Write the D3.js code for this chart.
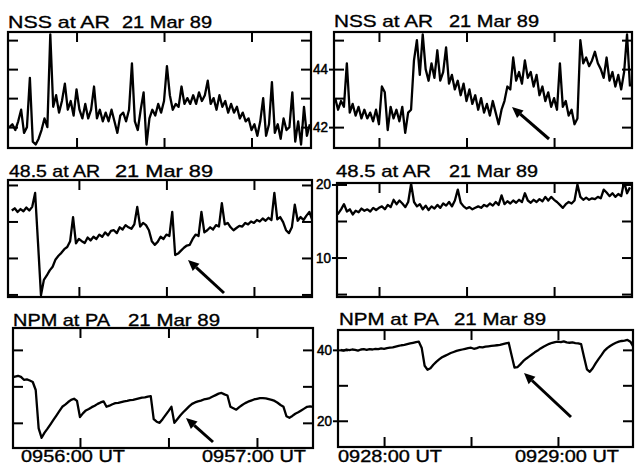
<!DOCTYPE html>
<html><head><meta charset="utf-8">
<script src="https://cdn.jsdelivr.net/npm/d3@7"></script>
<style>
html,body{margin:0;padding:0;background:#fff;}
svg{display:block;}
text{font-family:"Liberation Sans",Arial,Helvetica,sans-serif;fill:#000;}
</style></head>
<body>
<svg id="chart" width="636" height="465"></svg>
<script>
// ---- data (one sample per second) ----
const leftStart = 37;   // seconds after 0955:00
const rightStart = 45;  // seconds after 0927:00
const nssLeft = [42.0,42.1,41.9,42.2,42.6,41.8,42.0,43.7,41.5,41.4,41.6,41.9,42.3,42.0,45.2,42.7,43.1,42.5,42.9,43.5,42.6,42.9,42.4,43.3,42.6,42.3,42.8,42.3,42.6,43.4,42.3,42.6,42.2,42.5,42.2,42.6,42.2,41.8,42.4,42.5,42.2,42.6,44.2,42.2,41.9,42.6,43.2,41.4,42.3,42.6,42.4,42.8,42.5,42.9,44.1,43.1,42.6,42.8,42.7,43.4,42.8,43.0,42.8,43.1,42.8,43.2,42.9,43.1,43.6,42.8,43.0,42.6,43.1,42.7,42.9,42.5,42.8,42.5,42.7,42.3,42.5,42.2,42.3,41.9,42.1,41.7,42.2,43.0,41.7,42.1,43.55,41.8,42.1,41.6,42.3,41.9,42.0,43.2,41.5,42.2,41.4,42.7,41.7,42.1];
const nssRight = [43.0,42.6,42.9,42.7,44.2,42.5,42.8,42.4,42.7,42.3,42.6,42.3,42.5,42.2,42.6,42.1,43.4,43.2,41.9,42.7,42.3,42.6,42.2,42.7,41.8,42.5,42.6,44.3,45.0,43.8,45.2,44.0,43.6,44.2,43.7,44.65,43.6,43.9,44.75,43.5,43.8,43.3,43.6,43.1,43.5,42.9,43.3,42.8,43.1,42.6,43.0,42.5,42.8,42.4,42.9,42.5,42.1,42.6,42.9,43.4,43.3,44.4,43.6,43.9,43.5,44.3,43.7,43.9,43.4,43.8,43.1,43.4,42.9,43.2,42.7,43.0,42.6,44.2,42.7,42.9,42.4,42.6,42.1,42.3,45.0,44.2,44.4,44.1,44.3,44.6,44.2,44.0,43.7,44.4,43.6,43.9,43.4,43.8,43.3,43.9,45.2,43.4];
const w485Left = [16.5,16.8,16.3,16.7,16.4,16.9,16.5,17.0,18.9,12.0,4.9,7.0,7.6,8.3,8.8,9.8,10.3,10.7,11.2,11.5,12.3,15.6,12.0,12.6,12.3,12.05,12.8,12.4,12.9,12.6,13.2,12.9,13.5,13.1,13.7,13.8,13.4,14.2,13.9,14.5,14.2,14.0,14.6,17.0,14.3,14.8,14.5,13.8,12.3,11.8,12.2,12.9,12.6,13.2,13.0,16.3,10.4,10.6,11.0,11.4,11.7,11.8,12.6,13.2,13.0,16.3,13.5,13.8,14.2,13.9,14.5,14.3,17.5,14.6,14.8,14.2,13.8,14.1,14.4,14.3,14.8,14.6,15.0,14.8,15.2,15.0,15.4,15.1,15.5,15.2,18.9,15.3,15.6,14.9,13.8,13.4,14.2,17.3,15.1,15.6,15.2,15.8,16.3,15.2];
const w485Right = [16.2,16.0,16.6,17.3,16.3,16.6,15.9,16.4,16.2,16.7,16.4,16.6,16.3,16.8,16.5,16.8,17.0,16.6,17.2,16.9,17.9,17.3,17.8,17.4,16.9,17.6,20.1,17.6,17.0,17.3,16.6,17.1,16.5,17.0,16.7,17.2,16.8,17.4,17.1,17.6,17.0,17.8,19.3,17.5,17.0,16.7,16.9,16.6,16.8,17.0,16.8,17.2,17.0,17.4,17.1,17.6,17.2,18.5,17.3,17.7,17.4,17.8,17.5,17.9,17.6,18.8,17.8,17.5,17.9,17.6,18.0,17.7,18.3,17.8,18.3,17.9,17.6,17.2,16.8,17.3,17.6,17.4,17.8,20.0,18.3,17.9,18.2,17.9,18.1,18.0,18.3,18.1,19.3,18.9,18.4,18.8,18.3,18.7,18.4,20.4,18.8,19.6];
const npmLeft = [32.5,32.7,32.9,32.6,31.8,31.9,31.6,31.2,29.0,18.5,15.9,17.3,18.4,19.6,20.8,22.0,23.2,24.4,25.0,25.7,26.3,26.6,26.0,21.6,22.6,23.4,23.8,24.3,24.7,25.2,25.6,25.9,24.4,24.7,25.1,25.4,25.5,25.7,25.9,26.0,26.2,26.3,26.5,26.7,26.9,27.0,27.2,27.3,21.0,20.3,20.0,21.0,22.1,23.2,24.4,20.0,21.0,22.0,22.9,23.7,24.5,25.2,25.6,25.9,26.1,26.4,26.6,26.8,27.2,27.6,28.0,28.2,27.8,27.5,24.4,24.0,23.6,24.3,24.9,25.4,25.8,26.1,26.4,26.6,26.8,26.8,26.7,26.5,26.3,26.0,25.5,24.9,24.4,21.8,21.4,21.9,22.5,22.9,23.4,23.9,24.4,24.5,24.4,24.6];
const npmRight = [40.0,39.8,40.1,39.9,40.1,40.0,39.8,40.1,40.2,40.0,40.2,40.1,40.3,40.2,40.4,40.3,40.5,40.6,40.7,40.9,41.1,41.3,41.4,41.6,41.8,42.0,42.2,42.3,40.5,35.5,34.4,34.8,35.8,36.6,37.3,37.9,38.3,38.7,39.1,39.4,39.7,39.9,40.1,40.3,40.5,40.6,40.3,40.5,40.8,40.7,40.9,41.0,41.1,41.2,41.3,41.4,41.6,41.8,42.0,38.5,35.0,35.1,35.9,36.8,37.5,38.1,38.7,39.3,39.8,40.4,40.9,41.3,41.7,42.0,42.2,42.3,42.2,42.4,42.1,42.0,42.1,41.9,41.8,41.6,38.0,34.5,33.8,34.8,36.2,37.4,38.5,39.7,40.5,41.1,41.6,42.0,42.3,42.5,42.6,42.8,42.3,40.9];

// ---- labels ----
const titleLeftParts = ["NSS at AR", "48.5 at AR", "NPM at PA"];
const titleDate = "21 Mar 89";
const timeTicks = [60, 90, 120];
const leftTimeLabels = ["0956:00 UT", "0957:00 UT"];
const rightTimeLabels = ["0928:00 UT", "0929:00 UT"];
const nssTicks = [42, 43, 44, 45], nssLabels = [44, 42];
const w485Ticks = [5, 10, 15, 20], w485Labels = [20, 10];
const npmTicks = [20, 30, 40], npmLabels = [40, 20];

// ---- layout ----
const panels = [
  {data:nssLeft, t0:leftStart, x0:8, x1:311, y0:32, y1:148, xd:[36.5,140.4], yd:[41.28,45.28], yt:nssTicks, yl:null, title:0, tb:28, tx:[8,110,122,212]},
  {data:nssRight, t0:rightStart, x0:334, x1:632, y0:32, y1:148, xd:[44.6,146.7], yd:[41.28,45.28], yt:nssTicks, yl:nssLabels, title:0, tb:27, tx:[334,433,449,539],
    arrow:[549,139,512,107]},
  {data:w485Left, t0:leftStart, x0:8, x1:312, y0:180, y1:297, xd:[35.7,139.9], yd:[4.65,20.68], yt:w485Ticks, yl:null, title:1, tb:177, tx:[9,100,115,213],
    arrow:[224,293,188,260]},
  {data:w485Right, t0:rightStart, x0:337, x1:632, y0:183, y1:297, xd:[45.6,146.7], yd:[4.6,20.2], yt:w485Ticks, yl:w485Labels, title:1, tb:177, tx:[336,431,449,538]},
  {data:npmLeft, t0:leftStart, x0:13, x1:313, y0:328, y1:448, xd:[37.3,139], yd:[13.1,46.0], yt:npmTicks, yl:null, title:2, tb:326, tx:[13,110,128,220],
    arrow:[213,442,186,418], xl:leftTimeLabels, xlc:[73,254]},
  {data:npmRight, t0:rightStart, x0:338, x1:633, y0:330, y1:447, xd:[44.1,145.9], yd:[12.6,45.6], yt:npmTicks, yl:npmLabels, title:2, tb:325, tx:[339,439,454,546],
    arrow:[571,417,524,373], xl:rightTimeLabels, xlc:[390,567]}
];

const svg = d3.select("#chart");
const defs = svg.append("defs");

panels.forEach((p, k) => {
  const x = d3.scaleLinear().domain(p.xd).range([p.x0, p.x1]);
  const y = d3.scaleLinear().domain(p.yd).range([p.y1, p.y0]);
  const g = svg.append("g");
  const cid = "clip" + k;
  defs.append("clipPath").attr("id", cid).append("rect")
    .attr("x", p.x0).attr("y", p.y0).attr("width", p.x1 - p.x0).attr("height", p.y1 - p.y0);

  // data line
  const line = d3.line().x((d, i) => x(p.t0 + i)).y(d => y(d));
  g.append("path").datum(p.data).attr("clip-path", `url(#${cid})`)
    .attr("d", line).attr("fill", "none").attr("stroke", "#000")
    .attr("stroke-width", 2.3).attr("stroke-linejoin", "round");

  // frame
  g.append("rect").attr("x", p.x0).attr("y", p.y0).attr("width", p.x1 - p.x0).attr("height", p.y1 - p.y0)
    .attr("fill", "none").attr("stroke", "#000").attr("stroke-width", 2.2);

  // axes via d3 axis generators with inward ticks
  const tk = 10;
  const axTop = d3.axisTop(x).tickValues(timeTicks).tickSize(-tk).tickFormat("");
  const axBot = d3.axisBottom(x).tickValues(timeTicks).tickSize(-tk).tickFormat("");
  const axL = d3.axisLeft(y).tickValues(p.yt).tickSize(-tk).tickFormat("");
  const axR = d3.axisRight(y).tickValues(p.yt).tickSize(-tk).tickFormat("");
  [[axTop, `translate(0,${p.y0})`], [axBot, `translate(0,${p.y1})`],
   [axL, `translate(${p.x0},0)`], [axR, `translate(${p.x1},0)`]].forEach(([ax, tr]) => {
    const a = g.append("g").attr("transform", tr).call(ax);
    a.select(".domain").remove();
    a.selectAll("line").attr("stroke", "#000").attr("stroke-width", 2);
  });

  // y labels on the left of right-column panels
  if (p.yl) {
    const ay = g.append("g").attr("transform", `translate(${p.x0},0)`)
      .call(d3.axisLeft(y).tickValues(p.yl).tickSize(5).tickPadding(1).tickFormat(d3.format("d")));
    ay.select(".domain").remove();
    ay.selectAll("line").attr("stroke", "#000").attr("stroke-width", 2);
    ay.selectAll("text").attr("font-size", 14).attr("textLength", 15).attr("lengthAdjust", "spacingAndGlyphs")
      .style("font-family", '"Liberation Sans",Arial,sans-serif').attr("fill", "#000")
      .attr("stroke", "#000").attr("stroke-width", 0.5);
  }

  // title
  const [a0, a1, b0, b1] = p.tx;
  [[titleLeftParts[p.title], a0, a1], [titleDate, b0, b1]].forEach(([s, s0, s1]) => {
    g.append("text").attr("x", s0).attr("y", p.tb).attr("font-size", 17)
      .attr("stroke", "#000").attr("stroke-width", 0.35)
      .attr("textLength", s1 - s0).attr("lengthAdjust", "spacingAndGlyphs").text(s);
  });

  // time labels
  if (p.xl) {
    p.xl.forEach((s, j) => {
      g.append("text").attr("x", p.xlc[j]).attr("y", 462).attr("text-anchor", "middle")
        .attr("font-size", 16).attr("stroke", "#000").attr("stroke-width", 0.35)
        .attr("textLength", 104).attr("lengthAdjust", "spacingAndGlyphs").text(s);
    });
  }

  // arrow
  if (p.arrow) {
    const [ax0, ay0, ax1, ay1] = p.arrow;
    const ang = Math.atan2(ay1 - ay0, ax1 - ax0);
    const hl = 11, hw = 5;
    const bx = ax1 - hl * Math.cos(ang), by = ay1 - hl * Math.sin(ang);
    g.append("line").attr("x1", ax0).attr("y1", ay0).attr("x2", bx).attr("y2", by)
      .attr("stroke", "#000").attr("stroke-width", 3);
    const px = -Math.sin(ang) * hw, py = Math.cos(ang) * hw;
    g.append("path").attr("d", `M${ax1},${ay1}L${bx + px},${by + py}L${bx - px},${by - py}Z`).attr("fill", "#000");
  }
});
</script>
</body></html>
